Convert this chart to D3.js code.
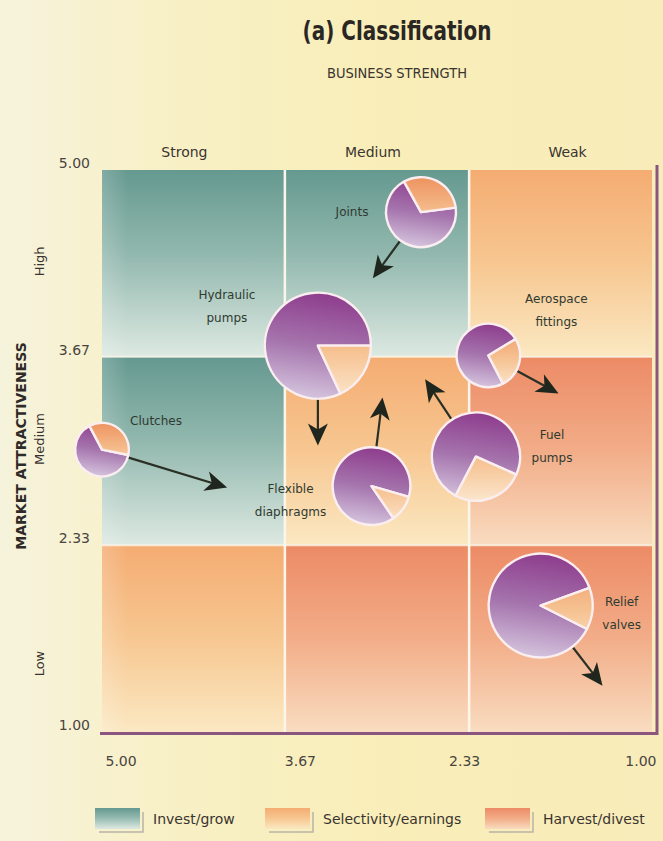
<!DOCTYPE html>
<html>
<head>
<meta charset="utf-8">
<script src="https://cdn.jsdelivr.net/npm/d3@7"></script>
<style>
  html, body { margin: 0; padding: 0; background: #f8f0c0; }
  svg { display: block; }
</style>
</head>
<body>
<svg id="chart" width="663" height="841"></svg>
<script>
// ---- data ----
const products = ["Joints", "Hydraulic pumps", "Aerospace fittings", "Fuel pumps", "Flexible diaphragms", "Clutches", "Relief valves"];
const businessStrength = [2.68, 3.43, 2.19, 2.28, 3.04, 5.00, 1.81];
const marketAttractiveness = [4.70, 3.75, 3.68, 2.96, 2.75, 3.01, 1.90];
const marketSize = [34, 78, 28, 54, 42, 20, 75];
const marketShare = [0.31, 0.18, 0.26, 0.26, 0.11, 0.36, 0.13];
const shareStartDeg = [-29, 90, 59, 114, 106, -28, 70];
const projectedStrength = [3.03, 3.43, 1.68, 2.65, 2.96, 4.09, 1.36];
const projectedAttractiveness = [4.23, 3.04, 3.41, 3.51, 3.38, 2.74, 1.33];

const axisTicks = [5.00, 3.67, 2.33, 1.00];
const strengthBands = ["Strong", "Medium", "Weak"];
const attractBands = ["High", "Medium", "Low"];
// strategy zone per row (High, Medium, Low) and column (Strong, Medium, Weak)
const zoneGrid = [
  ["invest", "invest", "select"],
  ["invest", "select", "harvest"],
  ["select", "harvest", "harvest"]
];
const zoneKeys = ["invest", "select", "harvest"];
const zoneNames = ["Invest/grow", "Selectivity/earnings", "Harvest/divest"];

// ---- layout ----
const FONT = "'DejaVu Sans','Liberation Sans',sans-serif";
const svg = d3.select("#chart");
const defs = svg.append("defs");

const x = d3.scaleLinear().domain([5, 1]).range([102, 652]);
const y = d3.scaleLinear().domain([1, 5]).range([732, 170]);
const r = d3.scaleSqrt().domain([0, 100]).range([0, 60]);

// label placement around each pie (pixel offsets from the pie centre)
const labelOffset = {
  "Joints": [-69, 0],
  "Hydraulic pumps": [-91, -39],
  "Aerospace fittings": [68, -45],
  "Fuel pumps": [76, -10],
  "Flexible diaphragms": [-81, 14],
  "Clutches": [54, -29],
  "Relief valves": [81, 8]
};

// ---- gradients ----
function vGrad(id, stops) {
  const g = defs.append("linearGradient").attr("id", id)
    .attr("x1", 0).attr("y1", 0).attr("x2", 0).attr("y2", 1);
  stops.forEach(([o, c]) => g.append("stop").attr("offset", o).attr("stop-color", c));
  return g;
}
const paper = defs.append("linearGradient").attr("id", "paper")
  .attr("x1", 0).attr("y1", 0).attr("x2", 1).attr("y2", 0);
[[0, "#f6f3dc"], [0.25, "#f8f0c6"], [0.6, "#f9eeb8"], [1, "#f8edba"]]
  .forEach(([o, c]) => paper.append("stop").attr("offset", o).attr("stop-color", c));

const zoneStops = {
  invest: [[0, "#659990"], [0.45, "#92b8ae"], [1, "#dde9e2"]],
  select: [[0, "#f4ac72"], [0.5, "#f7c791"], [1, "#fbe8c2"]],
  harvest: [[0, "#ec8b66"], [0.5, "#f2ad88"], [1, "#f9dcc0"]]
};
zoneKeys.forEach(k => vGrad("zone-" + k, zoneStops[k]));

const edgeGlow = defs.append("linearGradient").attr("id", "edge-glow")
  .attr("x1", 0).attr("y1", 0).attr("x2", 1).attr("y2", 0);
[[0, 0.18], [1, 0]].forEach(([o, a]) => edgeGlow.append("stop")
  .attr("offset", o).attr("stop-color", "#ffffff").attr("stop-opacity", a));

svg.append("rect").attr("width", 663).attr("height", 841).attr("fill", "url(#paper)");

// ---- title ----
svg.append("text")
  .attr("transform", "translate(397,40) scale(0.74,1)")
  .attr("text-anchor", "middle")
  .attr("font-family", FONT).attr("font-weight", "bold").attr("font-size", 27)
  .attr("fill", "#2a2624").text("(a) Classification");
svg.append("text")
  .attr("transform", "translate(397,78) scale(0.9,1)")
  .attr("text-anchor", "middle")
  .attr("font-family", FONT).attr("font-size", 14.5).attr("fill", "#3a3430")
  .text("BUSINESS STRENGTH");

// ---- zone cells ----
const cells = [];
zoneGrid.forEach((row, i) => row.forEach((z, j) => cells.push({ i, j, z })));
const grid = svg.append("g");
grid.selectAll("rect.cell").data(cells).join("rect")
  .attr("class", "cell")
  .attr("x", d => x(axisTicks[d.j]))
  .attr("y", d => y(axisTicks[d.i]))
  .attr("width", d => x(axisTicks[d.j + 1]) - x(axisTicks[d.j]))
  .attr("height", d => y(axisTicks[d.i + 1]) - y(axisTicks[d.i]))
  .attr("fill", d => "url(#zone-" + d.z + ")");

// lighter strip along the left edge of the grid
grid.append("rect")
  .attr("x", x(5)).attr("y", y(5))
  .attr("width", 26).attr("height", y(1) - y(5))
  .attr("fill", "url(#edge-glow)");

// white dividers between the cells
const inner = axisTicks.slice(1, 3);
grid.selectAll("line.vdiv").data(inner).join("line")
  .attr("x1", d => x(d)).attr("x2", d => x(d))
  .attr("y1", y(5)).attr("y2", y(1))
  .attr("stroke", "#fbf6ea").attr("stroke-width", 2.5);
grid.selectAll("line.hdiv").data(inner).join("line")
  .attr("y1", d => y(d)).attr("y2", d => y(d))
  .attr("x1", x(5)).attr("x2", x(1))
  .attr("stroke", "#fbf6ea").attr("stroke-width", 2).attr("stroke-opacity", 0.8);

// purple frame on the bottom and right edges
svg.append("path")
  .attr("d", `M${x(5) - 2},${y(1) + 1.5}H${x(1) + 5}V${y(5) - 5}`)
  .attr("fill", "none").attr("stroke", "#8a567f").attr("stroke-width", 3);

// ---- axes ----
const fmt = d3.format(".2f");
const xAxis = svg.append("g").attr("transform", `translate(0,${y(1)})`)
  .call(d3.axisBottom(x).tickValues(axisTicks).tickFormat(fmt).tickSize(0).tickPadding(24));
xAxis.select(".domain").remove();
xAxis.selectAll("text").attr("font-family", FONT).attr("font-size", 14).attr("fill", "#4a4440")
  .attr("text-anchor", (d, i) => i === 0 ? "start" : (i === axisTicks.length - 1 ? "end" : "middle"))
  .attr("dx", (d, i) => [3, 15, -5, 4][i]);

const yAxis = svg.append("g").attr("transform", `translate(90,0)`)
  .call(d3.axisLeft(y).tickValues(axisTicks).tickFormat(fmt).tickSize(0).tickPadding(0));
yAxis.select(".domain").remove();
yAxis.selectAll("text").attr("font-family", FONT).attr("font-size", 14).attr("fill", "#4a4440")
  .attr("y", -7);

// band headings
svg.selectAll("text.colhead").data(strengthBands).join("text")
  .attr("class", "colhead")
  .attr("x", (d, i) => (x(axisTicks[i]) + x(axisTicks[i + 1])) / 2 - [9, 4, -7][i])
  .attr("y", 157).attr("text-anchor", "middle")
  .attr("font-family", FONT).attr("font-size", 14).attr("fill", "#3a3430")
  .text(d => d);

svg.selectAll("text.rowhead").data(attractBands).join("text")
  .attr("class", "rowhead")
  .attr("transform", (d, i) => `translate(44,${(y(axisTicks[i]) + y(axisTicks[i + 1])) / 2 - [2, 12, -25][i]}) rotate(-90)`)
  .attr("text-anchor", "middle")
  .attr("font-family", FONT).attr("font-size", 13).attr("fill", "#3a3430")
  .text(d => d);

svg.append("text")
  .attr("transform", `translate(26,${(y(3.67) + y(2.33)) / 2 - 5}) rotate(-90)`)
  .attr("text-anchor", "middle")
  .attr("font-family", FONT).attr("font-weight", "bold").attr("font-size", 14)
  .attr("fill", "#2e2a28").text("MARKET ATTRACTIVENESS");

// ---- pies ----
const items = products.map((name, k) => ({
  name,
  cx: x(businessStrength[k]),
  cy: y(marketAttractiveness[k]),
  rad: r(marketSize[k]),
  a0: shareStartDeg[k] * Math.PI / 180,
  a1: (shareStartDeg[k] + marketShare[k] * 360) * Math.PI / 180,
  tx: x(projectedStrength[k]),
  ty: y(projectedAttractiveness[k]),
  k
}));

items.forEach(d => {
  const gp = defs.append("linearGradient").attr("id", "pp" + d.k)
    .attr("gradientUnits", "userSpaceOnUse")
    .attr("x1", 0).attr("y1", -d.rad).attr("x2", -d.rad * 0.3).attr("y2", d.rad);
  [[0, "#8e3d8d"], [0.5, "#a574ad"], [1, "#d6c6df"]]
    .forEach(([o, c]) => gp.append("stop").attr("offset", o).attr("stop-color", c));
  const gw = defs.append("linearGradient").attr("id", "pw" + d.k)
    .attr("gradientUnits", "userSpaceOnUse")
    .attr("x1", 0).attr("y1", -d.rad).attr("x2", 0).attr("y2", d.rad);
  [[0, "#ee9360"], [0.55, "#f6c292"], [1, "#fbe6cc"]]
    .forEach(([o, c]) => gw.append("stop").attr("offset", o).attr("stop-color", c));
});

// arrows toward the projected position
function arrowHead(px, py, ang) {
  const L = 22, W = 10, N = 6;
  const c = Math.cos(ang), s = Math.sin(ang);
  const pt = (u, v) => [px + u * c - v * s, py + u * s + v * c];
  const p = [pt(0, 0), pt(-L, W), pt(-L + N, 0), pt(-L, -W)];
  return "M" + p.map(q => q.join(",")).join("L") + "Z";
}
const arrows = svg.append("g");
items.forEach(d => {
  const dx = d.tx - d.cx, dy = d.ty - d.cy;
  const len = Math.hypot(dx, dy);
  const ux = dx / len, uy = dy / len;
  const sx = d.cx + ux * (d.rad + 1), sy = d.cy + uy * (d.rad + 1);
  const ang = Math.atan2(dy, dx);
  arrows.append("line")
    .attr("x1", sx).attr("y1", sy)
    .attr("x2", d.tx - ux * 14).attr("y2", d.ty - uy * 14)
    .attr("stroke", "#2a3026").attr("stroke-width", 2.2);
  arrows.append("path").attr("d", arrowHead(d.tx, d.ty, ang)).attr("fill", "#1f261d");
});

const arc = d3.arc().innerRadius(0);
const pies = svg.selectAll("g.pie").data(items).join("g")
  .attr("class", "pie")
  .attr("transform", d => `translate(${d.cx},${d.cy})`);
pies.append("path")
  .attr("d", d => arc({ outerRadius: d.rad, startAngle: d.a1, endAngle: d.a0 + 2 * Math.PI }))
  .attr("fill", d => `url(#pp${d.k})`)
  .attr("stroke", "#fbeef0").attr("stroke-width", 2.4).attr("stroke-linejoin", "round");
pies.append("path")
  .attr("d", d => arc({ outerRadius: d.rad, startAngle: d.a0, endAngle: d.a1 }))
  .attr("fill", d => `url(#pw${d.k})`)
  .attr("stroke", "#fbeef0").attr("stroke-width", 2.4).attr("stroke-linejoin", "round");

// product labels
items.forEach(d => {
  const [ox, oy] = labelOffset[d.name];
  const words = d.name.split(" ");
  const t = svg.append("text")
    .attr("text-anchor", "middle")
    .attr("font-family", FONT).attr("font-size", 12).attr("fill", "#2f3a30");
  words.forEach((w, i) => {
    t.append("tspan")
      .attr("x", d.cx + ox)
      .attr("y", d.cy + oy + (i - (words.length - 1) / 2) * 23)
      .attr("dy", "0.35em")
      .text(w);
  });
});

// ---- legend ----
const legendX = [95, 265, 485];
const lg = svg.selectAll("g.legend").data(zoneKeys).join("g")
  .attr("class", "legend")
  .attr("transform", (d, i) => `translate(${legendX[i]},808)`);
lg.append("path").attr("d", "M4,24H48V4").attr("fill", "none")
  .attr("stroke", "#b8b4a8").attr("stroke-width", 1.5);
lg.append("rect").attr("width", 45).attr("height", 21)
  .attr("fill", d => `url(#zone-${d})`);
lg.append("text").attr("x", 58).attr("y", 16)
  .attr("font-family", FONT).attr("font-size", 14).attr("fill", "#3a3430")
  .text((d, i) => zoneNames[i]);
</script>
</body>
</html>
